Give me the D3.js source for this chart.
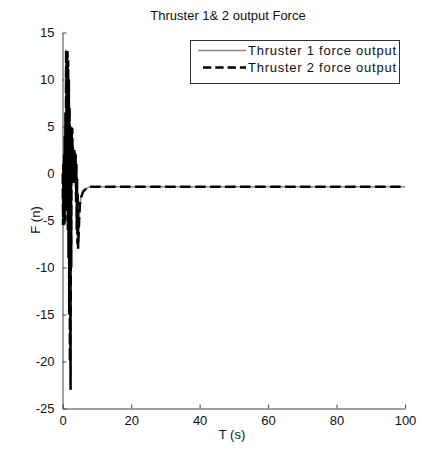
<!DOCTYPE html>
<html>
<head>
<meta charset="utf-8">
<script src="https://cdn.jsdelivr.net/npm/d3@7"></script>
<style>
  html, body { margin: 0; padding: 0; background: #fff; }
  svg { display: block; font-family: Arial, "Liberation Sans", Helvetica, sans-serif; }
</style>
</head>
<body>
<svg id="chart" width="422" height="455"></svg>
<script>
// Sample times (s)
const timeS = [
  0, 0.1, 0.2, 0.3, 0.4, 0.5, 0.6, 0.7, 0.8, 0.9,
  1.0, 1.1, 1.2, 1.3, 1.4, 1.5, 1.6, 1.7, 1.8, 1.9,
  2.0, 2.1, 2.2, 2.3, 2.4, 2.5, 2.6, 2.7, 2.8, 2.9,
  3.0, 3.1, 3.2, 3.3, 3.4, 3.5, 3.6, 3.7, 3.8, 3.9,
  4.0, 4.1, 4.2, 4.3, 4.4, 4.5, 4.8, 5.0, 5.4, 6.0,
  6.9, 7.9, 100
];
// Thruster 1 force (n)
const thruster1 = [
  0, -5.5, 1, -5.3, 2, -5.5, 4, -5, 6.5, -4,
  13.2, -3, 12.5, -2, 13, -6, 12, -9, 10, -15,
  7, -20, 5, -23, 3, -10, 5, -1, 4.8, -0.5,
  3, -1, 2.5, -0.5, 2.5, -0.3, 2.2, -1, 2, -3,
  1, -6, -0.5, -7.5, -2, -8, -5, -3.3, -2.5, -1.9,
  -1.6, -1.4, -1.4
];
// Thruster 2 force (n)
const thruster2 = [
  0, -5.5, 1, -5.3, 2, -5.5, 4, -5, 6.5, -4,
  13.2, -3, 12.5, -2, 13, -6, 12, -9, 10, -15,
  7, -20, 5, -23, 3, -10, 5, -1, 4.8, -0.5,
  3, -1, 2.5, -0.5, 2.5, -0.3, 2.2, -1, 2, -3,
  1, -6, -0.5, -7.5, -2, -8, -5, -3.3, -2.5, -1.9,
  -1.6, -1.4, -1.4
];
const xTicks = [0, 20, 40, 60, 80, 100];
const yTicks = [-25, -20, -15, -10, -5, 0, 5, 10, 15];
const seriesNames = ["Thruster 1 force output", "Thruster 2 force output"];

const svg = d3.select("#chart");
const x = d3.scaleLinear().domain([0, 100]).range([62.7, 405]);
const y = d3.scaleLinear().domain([-25, 15]).range([408.5, 32.5]);

const axisColor = "#444";
const plainNum = d => String(d);   // plain hyphen minus sign

// Axes (ticks point inward, no box)
const gx = svg.append("g").attr("transform", "translate(0,408.5)")
  .call(d3.axisBottom(x).tickValues(xTicks).tickFormat(plainNum)
    .tickSizeInner(-4).tickSizeOuter(0).tickPadding(7));
const gy = svg.append("g").attr("transform", "translate(62.5,0)")
  .call(d3.axisLeft(y).tickValues(yTicks).tickFormat(plainNum)
    .tickSizeInner(-4).tickSizeOuter(0).tickPadding(8));
[gx, gy].forEach(g => {
  g.select(".domain").attr("stroke", axisColor);
  g.selectAll(".tick line").attr("stroke", axisColor);
  g.selectAll(".tick text").attr("fill", "#111").style("font-size", "13px")
    .style("font-family", "Arial, 'Liberation Sans', sans-serif");
});

const pts1 = timeS.map((t, i) => [t, thruster1[i]]);
const pts2 = timeS.map((t, i) => [t, thruster2[i]]);
const line = d3.line().x(d => x(d[0])).y(d => y(d[1]));

svg.append("path").datum(pts1).attr("d", line)
  .attr("fill", "none").attr("stroke", "#8a8a8a").attr("stroke-width", 1.5)
  .attr("stroke-linejoin", "miter");
svg.append("path").datum(pts2).attr("d", line)
  .attr("fill", "none").attr("stroke", "#000").attr("stroke-width", 2.5)
  .attr("stroke-dasharray", "10.5,4.5");

// Title and axis labels
svg.append("text").attr("x", 228).attr("y", 20).attr("text-anchor", "middle")
  .style("font-size", "13px").attr("fill", "#111").text("Thruster 1& 2 output Force");
svg.append("text").attr("x", 232).attr("y", 439).attr("text-anchor", "middle")
  .style("font-size", "13px").attr("fill", "#111").text("T (s)");
svg.append("text").attr("transform", "translate(40,220) rotate(-90)").attr("text-anchor", "middle")
  .style("font-size", "13px").attr("fill", "#111").text("F (n)");

// Legend
const lg = svg.append("g");
lg.append("rect").attr("x", 190.5).attr("y", 40.5).attr("width", 209).attr("height", 43)
  .attr("fill", "#fff").attr("stroke", "#333").attr("stroke-width", 1);
const rows = [50.5, 67.5];
lg.append("line").attr("x1", 198).attr("x2", 246).attr("y1", rows[0]).attr("y2", rows[0])
  .attr("stroke", "#8a8a8a").attr("stroke-width", 1.5);
lg.append("line").attr("x1", 203).attr("x2", 246).attr("y1", rows[1]).attr("y2", rows[1])
  .attr("stroke", "#000").attr("stroke-width", 2.5).attr("stroke-dasharray", "8.3,4");
seriesNames.forEach((name, i) => {
  lg.append("text").attr("x", 248).attr("y", rows[i] + 4.5)
    .style("font-size", "13px").style("letter-spacing", "0.75px").attr("fill", "#111").text(name);
});
</script>
</body>
</html>
